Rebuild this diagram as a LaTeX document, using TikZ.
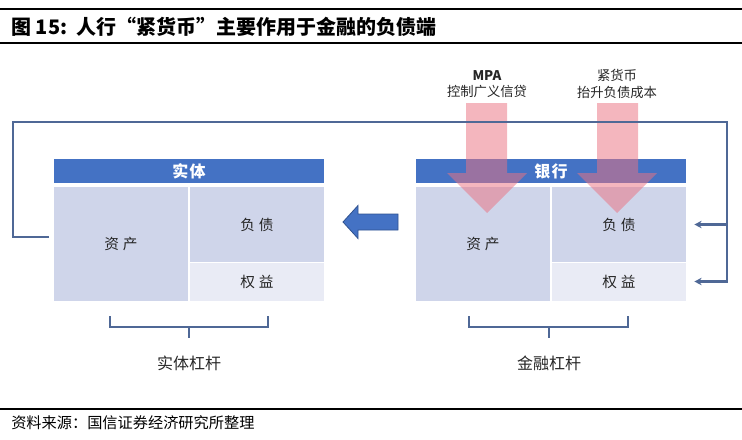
\documentclass[tikz,border=0pt]{standalone}
\usepackage{fontspec}
\setmainfont{Noto Sans CJK SC}
\usetikzlibrary{arrows.meta,positioning}
\definecolor{hdrblue}{RGB}{68,114,196}
\definecolor{cellblue}{RGB}{207,213,234}
\definecolor{cellpale}{RGB}{233,235,245}
\definecolor{linkblue}{RGB}{79,104,150}
\definecolor{pushpink}{RGB}{234,115,130}
\definecolor{arrowedge}{RGB}{47,82,143}

\begin{document}
\begin{tikzpicture}[x=0.75pt, y=-0.75pt, >={Stealth[length=5.5pt,width=5.5pt]},
  hdr/.style={fill=hdrblue, text=white, inner sep=0pt, minimum width=202.5pt, minimum height=18pt, font=\fontsize{12}{14}\selectfont\bfseries},
  cell/.style={fill=cellblue, text=black!85, inner sep=0pt, minimum width=100.5pt, font=\fontsize{11}{13}\selectfont},
  note/.style={align=center, inner sep=0pt, text=black!85, font=\fontsize{10}{12.5}\selectfont},
  fb/.style={draw=linkblue, line width=2pt},
  brk/.style={draw=linkblue, line width=1.1pt}]
  \useasboundingbox (0,0) rectangle (742,439);
  \draw[line width=1.2pt] (0,9) -- (742,9);
  \draw[line width=1.2pt] (0,43) -- (742,43);
  \draw[line width=1.2pt] (0,409) -- (742,409);
  \node[anchor=west, inner sep=0pt, font=\fontsize{15}{17}\selectfont\bfseries] (title) at (11,27) {图 15:\ \ 人行“紧货币”主要作用于金融的负债端};
  \node[anchor=west, inner sep=0pt, font=\fontsize{11.4}{13}\selectfont] (src) at (11,423) {资料来源：国信证券经济研究所整理};
  % 实体 side
  \node[hdr] (enthdr) at (189,171) {实\hspace{1pt}体};
  \node[cell, minimum height=85.5pt] (ea) at (121,244) {资\hspace{3pt}产};
  \node[cell, minimum height=56.25pt] (el) at (257,224.5) {负\hspace{3pt}债};
  \node[cell, fill=cellpale, minimum height=28.5pt] (ee) at (257,282) {权\hspace{3pt}益};
  % 银行 side
  \node[hdr] (bankhdr) at (551,171) {银\hspace{1pt}行};
  \node[cell, minimum height=85.5pt] (ba) at (483,243.5) {资\hspace{3pt}产};
  \node[cell, minimum height=56.25pt] (bl) at (619,224.5) {负\hspace{3pt}债};
  \node[cell, fill=cellpale, minimum height=28.5pt] (be) at (619,281.5) {权\hspace{3pt}益};
  % pink pushes on the bank
  \fill[pushpink, opacity=.52] (466,103) -- (507,103) -- (507,173) -- (527,173) -- (487,213) -- (447,173) -- (466,173) -- cycle;
  \fill[pushpink, opacity=.52] (597,103) -- (638,103) -- (638,173) -- (657,173) -- (617,213) -- (577,173) -- (597,173) -- cycle;
  \node[note] (mpa) at (487,84) {\textbf{MPA}\\控制广义信贷};
  \node[note] (tight) at (617,84) {紧货币\\抬升负债成本};
  \filldraw[fill=hdrblue, draw=arrowedge, line width=0.6pt] (398,214) -- (358,214) -- (358,205.5) -- (343,222) -- (358,238.5) -- (358,230) -- (398,230) -- cycle;
  % feedback loop
  \coordinate (fbstart) at (49,237);
  \coordinate (fbleft) at (13,122);
  \coordinate (fbright) at (727,122);
  \draw[fb, ->] (fbstart) -| (fbleft) -- (fbright) |- ([xshift=6pt]be.east);
  \draw[fb, ->] (fbright |- bl.east) -- ([xshift=6pt]bl.east);
  % leverage brackets
  \node[note, font=\fontsize{12}{14}\selectfont] (entlev) at (189,363) {实体杠杆};
  \node[note, font=\fontsize{12}{14}\selectfont] (finlev) at (549,363) {金融杠杆};
  \draw[brk] (110,316) -- (110,327) -- (268,327) -- (268,316);
  \draw[brk] (189,327) -- (189,338);
  \draw[brk] (469,316) -- (469,327) -- (628,327) -- (628,316);
  \draw[brk] (549,327) -- (549,338);
\end{tikzpicture}
\end{document}
